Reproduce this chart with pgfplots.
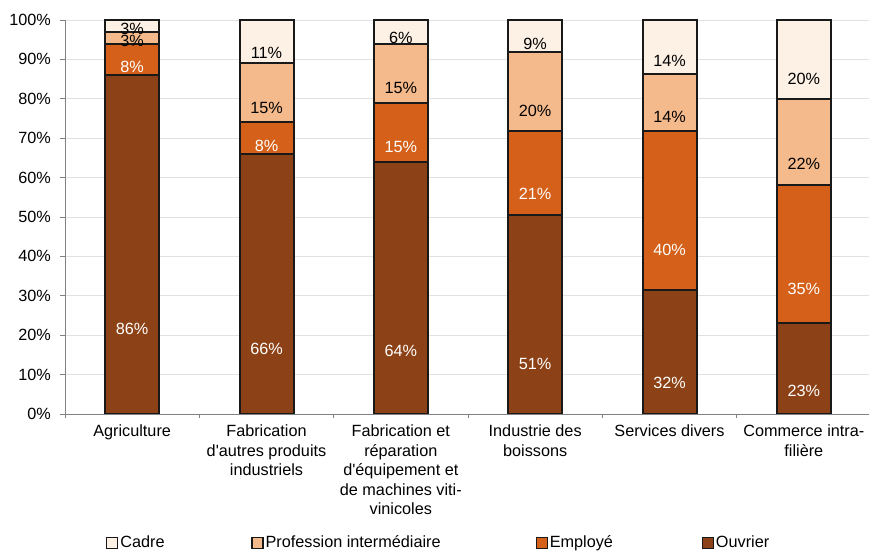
\documentclass[border=0pt]{standalone}
\usepackage{pgfplots}
\pgfplotsset{compat=1.18}
\usepackage{pgfplotstable}
\usepackage{fontspec}
\setmainfont{Liberation Sans}[Ligatures=TeXOff]

\definecolor{ouvrier}{RGB}{140,66,22}
\definecolor{employe}{RGB}{212,96,26}
\definecolor{interm}{RGB}{245,186,140}
\definecolor{cadre}{RGB}{253,241,229}
\definecolor{gridgray}{RGB}{225,225,225}
\definecolor{axisgray}{RGB}{130,130,130}

% one table per series: position, share, printed label
\pgfplotstableread{
x y lab
0 86 86
1 66 66
2 64 64
3 50.5 51
4 31.5 32
5 23 23
}\ouvrier
\pgfplotstableread{
x y lab
0 8 8
1 8 8
2 15 15
3 21.3 21
4 40.3 40
5 35 35
}\employe
\pgfplotstableread{
x y lab
0 3 3
1 15 15
2 15 15
3 20.1 20
4 14.5 14
5 22 22
}\interm
\pgfplotstableread{
x y lab
0 3 3
1 11 11
2 6 6
3 8.1 9
4 13.7 14
5 20 20
}\cadre

\pgfplotsset{
  seg/.style={
    fill=#1, draw=black!90, line width=2bp,
    nodes near coords={\pgfplotspointmeta\%},
    point meta=explicit symbolic,
    visualization depends on={\thisrow{y}/4 \as \half},
    every node near coord/.append style={anchor=center,
      shift={(axis direction cs:0,-\half)}},
  },
}

\begin{document}
\fontsize{16.3}{19.5}\selectfont
\begin{tikzpicture}
\useasboundingbox (0,0) rectangle (869bp,552bp);
\begin{axis}[
  at={(65bp,138bp)}, anchor=south west,
  scale only axis, width=806bp, height=394bp,
  ybar stacked, bar width=54bp,
  xmin=-0.5, xmax=5.5, ymin=0, ymax=100,
  axis x line*=bottom, axis y line*=left,
  axis line style={axisgray, line width=0.8bp},
  tick style={axisgray, line width=0.8bp},
  tick align=outside, major tick length=4.5bp,
  ymajorgrids, grid style={gridgray, line width=0.8bp},
  ytick={0,10,...,100},
  yticklabels={0\%,10\%,20\%,30\%,40\%,50\%,60\%,70\%,80\%,90\%,100\%},
  yticklabel style={xshift=-4bp},
  xtick={-0.5,0.5,...,5.5},
  x tick label as interval,
  xticklabels={Agriculture,
    Fabrication\\d'autres produits\\industriels,
    Fabrication et\\réparation\\d'équipement et\\de machines viti-\\vinicoles,
    Industrie des\\boissons,
    Services divers,
    Commerce intra-\\filière},
  xticklabel style={align=center, yshift=-1bp},
  font=\fontsize{16.3}{19.5}\selectfont,
  legend columns=4, reverse legend,
  legend style={at={(0.0509,-0.327)}, anchor=west, draw=none, fill=none,
    inner sep=0pt, font=\fontsize{16.3}{19.5}\selectfont,
    /tikz/every odd column/.append style={column sep=0bp}},
  legend image code/.code={\draw[#1, line width=1.2bp] (0bp,-5.5bp) rectangle (11bp,5.5bp);},
]
\addplot[seg=ouvrier, every node near coord/.append style={text=white}]
  table[x=x, y=y, meta=lab]{\ouvrier};
\addlegendentry{Ouvrier}
\addplot[seg=employe, every node near coord/.append style={text=white}]
  table[x=x, y=y, meta=lab]{\employe};
\addlegendentry{\makebox[150bp][l]{Employé}}
\addplot[seg=interm, every node near coord/.append style={text=black}]
  table[x=x, y=y, meta=lab]{\interm};
\addlegendentry{\makebox[268bp][l]{Profession intermédiaire}}
\addplot[seg=cadre, every node near coord/.append style={text=black}]
  table[x=x, y=y, meta=lab]{\cadre};
\addlegendentry{\makebox[129bp][l]{Cadre}}
\end{axis}
\end{tikzpicture}
\end{document}
